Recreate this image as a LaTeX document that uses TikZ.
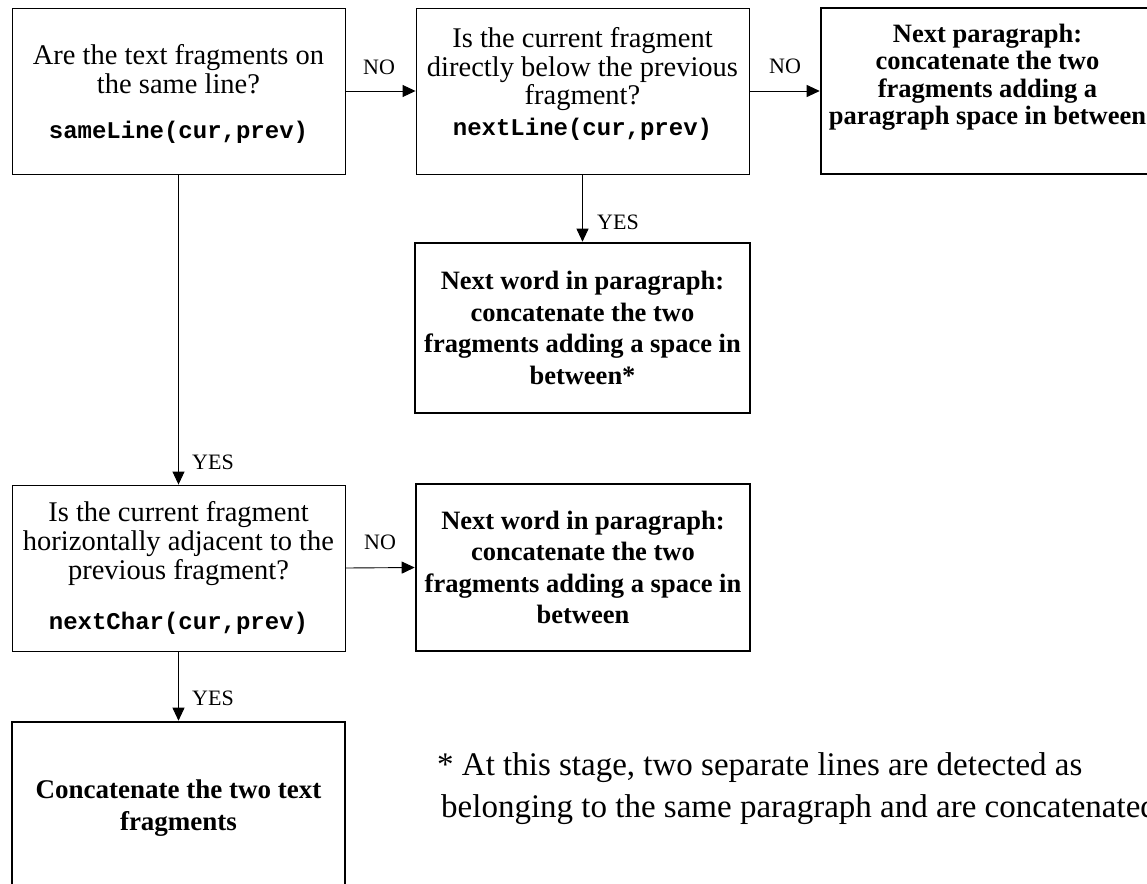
\documentclass[tikz,border=0pt]{standalone}
\usepackage{fontspec}
\setmainfont{Liberation Serif}
\setmonofont{Liberation Mono}
\usetikzlibrary{arrows.meta,calc}

% bold monospaced function call shown under each question
\newcommand\fncall[1]{{\fontsize{24}{24}\selectfont\ttfamily\bfseries #1}}

\begin{document}
\begin{tikzpicture}[x=1pt,y=-1pt,
  question/.style={draw, line width=0.9pt, inner sep=0pt, align=center,
    minimum width=333pt, minimum height=166pt,
    font=\fontsize{28.5}{29}\selectfont},
  questiontext/.style={inner sep=0pt, align=center,
    font=\fontsize{28.5}{28.5}\selectfont},
  action/.style={draw, line width=2.6pt, inner sep=0pt, align=center,
    font=\bfseries\fontsize{26.5}{31.5}\selectfont},
  actiontext/.style={inner sep=0pt, align=center,
    font=\bfseries\fontsize{26.5}{27.5}\selectfont},
  flow/.style={draw, line width=0.9pt, -{Triangle[length=13pt,width=12pt]}},
  answer/.style={inner sep=0pt, font=\fontsize{22}{22}\selectfont},
  note/.style={inner sep=0pt, anchor=base west, font=\fontsize{33}{42}\selectfont}
]
\useasboundingbox (0,0) rectangle (1147,883);
\fill[white] (0,0) rectangle (1147,883);

% decision boxes
\node[question] (same) at (178.5,91) {};
\node[questiontext] (sametext) at ($(same.center)+(0,3)$)
  {Are the text fragments on\\the same line?\\[17pt]\fncall{sameLine(cur,prev)}};
\node[question] (below) at (582.5,91) {};
\node[questiontext] (belowtext) at ($(below.center)+(0,-7)$)
  {Is the current fragment\\directly below the previous\\fragment?\\[2pt]\fncall{nextLine(cur,prev)}};
\node[question] (adj) at (178.5,568)
  {Is the current fragment\\horizontally adjacent to the\\previous fragment?\\[21pt]\fncall{nextChar(cur,prev)}};

% outcome boxes
\node[action, minimum width=333pt, minimum height=166pt] (para) at (987.5,91) {};
\node[actiontext] (paratext) at ($(para.center)+(0,-14)$)
  {Next paragraph:\\concatenate the two\\fragments adding a\\paragraph space in between};
\node[action, minimum width=335pt, minimum height=170pt] (wordA) at (582.5,328)
  {Next word in paragraph:\\concatenate the two\\fragments adding a space in\\between*};
\node[action, minimum width=334pt, minimum height=167pt] (wordB) at (583,567.5)
  {Next word in paragraph:\\concatenate the two\\fragments adding a space in\\between};
\node[action, minimum width=333pt, minimum height=167pt] (join) at (178.5,805.5) {};
\node[actiontext, font=\bfseries\fontsize{27}{32}\selectfont] (jointext)
  at ($(join.center)+(0,3)$) {Concatenate the two text\\fragments};

% connectors
\draw[flow] (same.east) -- (below.west);
\draw[flow] (below.east) -- (para.west);
\draw[flow] (below.south) -- (wordA.north);
\draw[flow] (same.south) -- (adj.north);
\draw[flow] (adj.east) -- (wordB.west);
\draw[flow] (adj.south) -- (join.north);

% branch labels
\node[answer] (no1) at (379,67) {NO};
\node[answer] (no2) at (785,66) {NO};
\node[answer] (yes1) at (618,222) {YES};
\node[answer] (yes2) at (213,462) {YES};
\node[answer] (no3) at (380,542) {NO};
\node[answer] (yes3) at (213,698) {YES};

% footnote
\node[note] (fn1) at (437,775) {* At this stage, two separate lines are detected as};
\node[note] (fn2) at (441,817) {belonging to the same paragraph and are concatenated};
\end{tikzpicture}
\end{document}
